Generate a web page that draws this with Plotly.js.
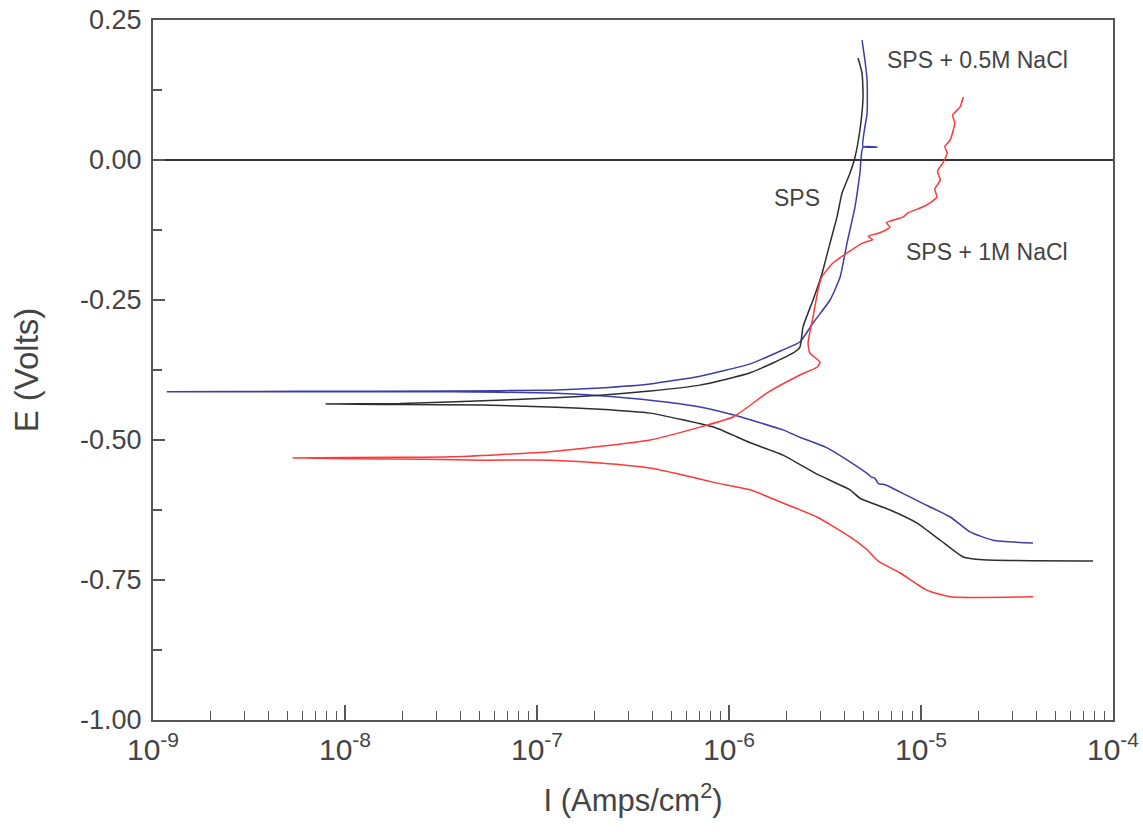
<!DOCTYPE html>
<html>
<head>
<meta charset="utf-8">
<script src="https://cdn.plot.ly/plotly-3.0.1.min.js"></script>
<style>html,body{margin:0;padding:0;background:#fff;}#chart{width:1143px;height:832px;}</style>
</head>
<body>
<div id="chart"></div>
<script>
// SPS + 0.5M NaCl (blue): cathodic end -> Ecorr -> anodic end
const blueI = [3.83e-5,2.37e-5,1.80e-5,1.42e-5,9.9e-6,7.8e-6,6.5e-6,6.0e-6,5.75e-6,5.5e-6,5.3e-6,4.27e-6,3.24e-6,2.34e-6,1.91e-6,1.29e-6,1.05e-6,7.06e-7,3.88e-7,2.13e-7,1.17e-7,3.53e-8,5.8e-9,1.18e-9,
  5.8e-9,3.53e-8,1.17e-7,2.13e-7,3.88e-7,7.06e-7,1.29e-6,1.91e-6,2.34e-6,2.74e-6,3.36e-6,3.79e-6,4.12e-6,4.53e-6,4.81e-6,4.99e-6,5.9e-6,4.99e-6,5.24e-6,5.24e-6,5.1e-6,4.93e-6];
const blueE = [-0.684,-0.679,-0.664,-0.6375,-0.611,-0.593,-0.580,-0.578,-0.568,-0.566,-0.561,-0.539,-0.514,-0.495,-0.482,-0.464,-0.455,-0.441,-0.429,-0.421,-0.416,-0.414,-0.414,-0.414,
  -0.413,-0.4125,-0.411,-0.407,-0.400,-0.386,-0.364,-0.339,-0.325,-0.291,-0.250,-0.209,-0.148,-0.084,-0.023,0.023,0.023,0.024,0.084,0.143,0.179,0.214];

// SPS (black)
const blackI = [7.87e-5,2.10e-5,1.66e-5,1.26e-5,9.5e-6,6.9e-6,4.81e-6,4.27e-6,2.87e-6,1.91e-6,1.29e-6,8.65e-7,5.75e-7,3.88e-7,2.13e-7,1.17e-7,5.24e-8,1.93e-8,7.96e-9,
  1.93e-8,5.24e-8,1.17e-7,2.13e-7,3.88e-7,7.06e-7,1.29e-6,2.15e-6,2.34e-6,2.43e-6,2.74e-6,2.98e-6,3.09e-6,3.36e-6,3.65e-6,3.88e-6,4.27e-6,4.53e-6,4.81e-6,4.99e-6,4.93e-6,4.70e-6];
const blackE = [-0.716,-0.714,-0.709,-0.679,-0.648,-0.625,-0.604,-0.589,-0.561,-0.527,-0.505,-0.479,-0.464,-0.452,-0.445,-0.441,-0.4375,-0.4366,-0.4357,
  -0.4348,-0.430,-0.425,-0.420,-0.4125,-0.402,-0.380,-0.345,-0.334,-0.298,-0.250,-0.214,-0.196,-0.148,-0.102,-0.059,-0.023,0.005,0.054,0.1125,0.155,0.182];

// SPS + 1M NaCl (red)
const redI = [3.83e-5,1.42e-5,1.07e-5,7.8e-6,6.1e-6,5.8e-6,5.55e-6,5.24e-6,4.27e-6,2.87e-6,1.91e-6,1.29e-6,8.65e-7,5.75e-7,3.88e-7,2.13e-7,1.17e-7,5.24e-8,1.93e-8,5.36e-9,
  1.93e-8,3.53e-8,1.17e-7,3.88e-7,7.06e-7,1.05e-6,1.58e-6,2.34e-6,2.87e-6,2.98e-6,2.64e-6,2.58e-6,2.74e-6,2.91e-6,3.04e-6,3.48e-6,4.12e-6,4.99e-6,5.6e-6,5.3e-6,6.11e-6,6.9e-6,6.6e-6,8.05e-6,8.6e-6,1.02e-5,1.12e-5,1.21e-5,1.18e-5,1.26e-5,1.22e-5,1.30e-5,1.37e-5,1.33e-5,1.42e-5,1.50e-5,1.46e-5,1.60e-5,1.66e-5];
const redE = [-0.780,-0.780,-0.768,-0.7375,-0.718,-0.712,-0.705,-0.696,-0.673,-0.6375,-0.6125,-0.589,-0.577,-0.5625,-0.550,-0.541,-0.536,-0.536,-0.534,-0.532,
  -0.531,-0.530,-0.521,-0.500,-0.477,-0.459,-0.416,-0.384,-0.370,-0.361,-0.345,-0.327,-0.280,-0.232,-0.209,-0.184,-0.166,-0.148,-0.142,-0.136,-0.130,-0.120,-0.112,-0.102,-0.094,-0.084,-0.076,-0.066,-0.052,-0.036,-0.020,-0.005,0.0125,0.024,0.036,0.066,0.080,0.095,0.1125];

const yTicks = [0.25,0,-0.25,-0.5,-0.75,-1.0];
const yTickText = ['0.25','0.00','-0.25','-0.50','-0.75','-1.00'];
const xTicks = [1e-9,1e-8,1e-7,1e-6,1e-5,1e-4];
const xTickText = ['10<sup>-9</sup>','10<sup>-8</sup>','10<sup>-7</sup>','10<sup>-6</sup>','10<sup>-5</sup>','10<sup>-4</sup>'];

const labels = ['SPS + 0.5M NaCl','SPS','SPS + 1M NaCl'];

const txt = '#444444';
const lineShape = {shape:'spline', smoothing:0.5};
const traces = [
  {x: blueI, y: blueE, mode:'lines', line:Object.assign({color:'#3c3ea8', width:1.5}, lineShape), name: labels[0]},
  {x: blackI, y: blackE, mode:'lines', line:Object.assign({color:'#2e2e2e', width:1.5}, lineShape), name: labels[1]},
  {x: redI, y: redE, mode:'lines', line:Object.assign({color:'#ff3838', width:1.5}, lineShape), name: labels[2]}
];

const layout = {
  width:1143, height:832,
  margin:{l:153, r:30, t:20, b:112},
  paper_bgcolor:'#fff', plot_bgcolor:'#fff',
  showlegend:false,
  font:{family:'Liberation Sans, Arial, sans-serif', color:txt},
  xaxis:{
    type:'log', range:[-9,-4],
    tickmode:'array', tickvals:xTicks, ticktext:xTickText,
    ticks:'inside', ticklen:15, tickwidth:1.5, tickcolor:'#555',
    minor:{dtick:'D1', ticks:'inside', ticklen:9, tickwidth:1.2, tickcolor:'#555', showgrid:false},
    showgrid:false, zeroline:false,
    showline:true, linecolor:'#555', linewidth:2, mirror:true,
    tickfont:{size:30, color:txt},
    ticklabelstandoff:2,
    title:{text:'I (Amps/cm<sup>2</sup>)', font:{size:31, color:txt}, standoff:24}
  },
  yaxis:{
    range:[-1.0,0.25],
    tickmode:'array', tickvals:yTicks, ticktext:yTickText,
    ticks:'inside', ticklen:12, tickwidth:1.5, tickcolor:'#555',
    minor:{dtick:0.125, ticks:'inside', ticklen:9, tickwidth:1.2, tickcolor:'#555', showgrid:false},
    showgrid:false,
    zeroline:true, zerolinecolor:'#333', zerolinewidth:1.5,
    showline:true, linecolor:'#555', linewidth:2, mirror:true,
    tickfont:{size:27, color:txt},
    ticklabelstandoff:4,
    title:{text:'E (Volts)', font:{size:33, color:txt}, standoff:32}
  },
  annotations:[
    {xref:'paper', yref:'paper', x:0.859, y:0.943, xanchor:'center', yanchor:'middle', text:labels[0], showarrow:false, font:{size:23, color:txt}},
    {xref:'paper', yref:'paper', x:0.671, y:0.746, xanchor:'center', yanchor:'middle', text:labels[1], showarrow:false, font:{size:23, color:txt}},
    {xref:'paper', yref:'paper', x:0.869, y:0.669, xanchor:'center', yanchor:'middle', text:labels[2], showarrow:false, font:{size:23, color:txt}}
  ]
};

Plotly.newPlot('chart', traces, layout, {displayModeBar:false, staticPlot:true});
</script>
</body>
</html>
